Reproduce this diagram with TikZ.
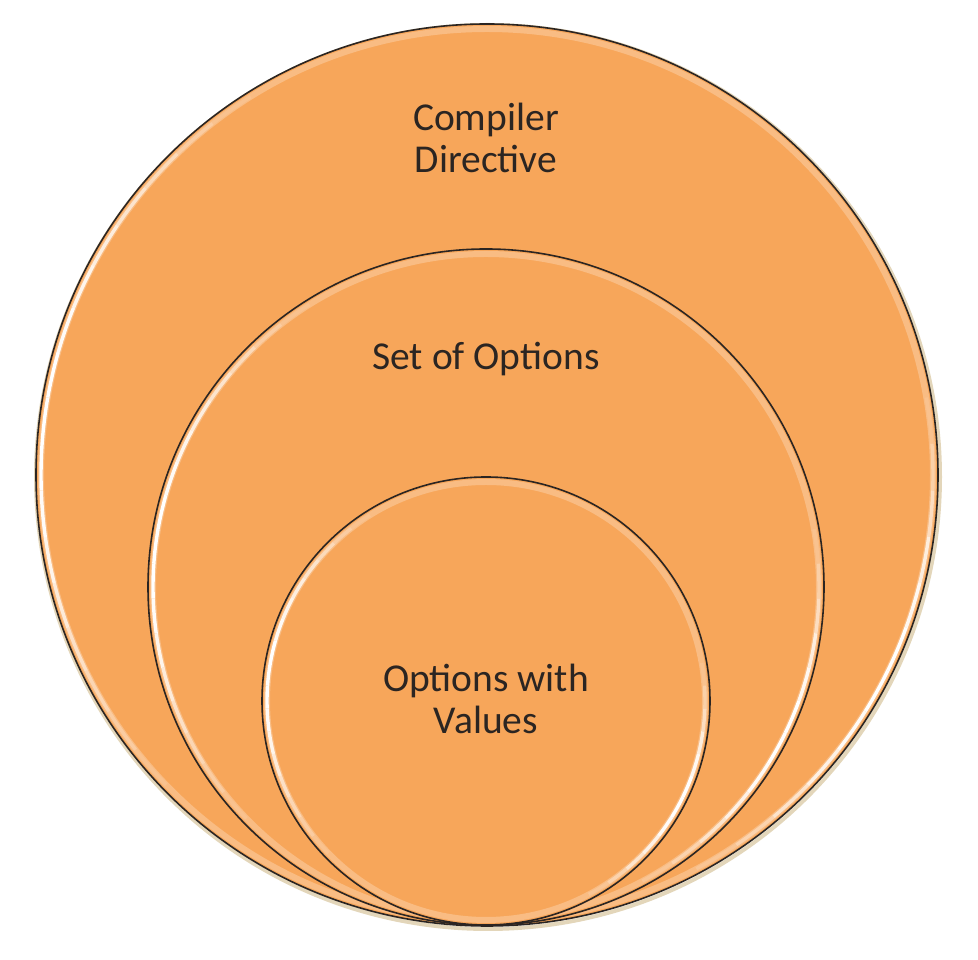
\documentclass[tikz,border=0pt]{standalone}
\usepackage{fontspec}
\setmainfont{Carlito}
\usetikzlibrary{calc}
\definecolor{orfill}{HTML}{F7A65A}
\definecolor{rim}{HTML}{2B2522}
\definecolor{shadowtan}{HTML}{E3D6BA}
\tikzset{
  ring/.style={circle, fill=orfill, draw=rim, line width=1.6pt, inner sep=0pt, minimum size=#1},
  lbl/.style={font=\fontsize{39.5}{42.5}\selectfont, text=rim, align=center, anchor=base},
}
\newcommand\glossring[2]{%
  \pgfmathsetmacro\rr{#2-5}
  \draw[white, line width=6pt, opacity=0.25] (#1.center) circle (\rr);
  \foreach \a/\o in {122/0.1,128/0.25,134/0.45,140/0.6,146/0.75,152/0.85,158/0.95,164/1,170/1,176/1,182/0.95,188/0.85,194/0.7,200/0.55,206/0.4,212/0.25,218/0.1}
    \draw[white, line width=3.4pt, opacity=\o] ($(#1.center)+(\a:\rr)$) arc[start angle=\a, end angle=\a+6, radius=\rr];
  \foreach \a/\o in {-62/0.15,-56/0.35,-50/0.6,-44/0.8,-38/0.95,-32/1,-26/1,-20/0.9,-14/0.75,-8/0.5,-2/0.3,4/0.1}
    \draw[white, line width=3.4pt, opacity=\o] ($(#1.center)+(\a:\rr)$) arc[start angle=\a, end angle=\a+6, radius=\rr];
}
\begin{document}
\begin{tikzpicture}[x=1pt,y=1pt]
  \useasboundingbox (0,0) rectangle (978,960);
  % soft shadow under outer circle
  \draw[shadowtan, line width=4pt] (488,483) circle (452);
  \node[ring=902pt] (outer) at (487,485) {};
  \glossring{outer}{451}
  \node[ring=676pt] (middle) at (486,373) {};
  \glossring{middle}{338}
  \node[ring=448pt] (inner) at (486,259) {};
  \glossring{inner}{224}
  \node[lbl] (cd) at (486,787) {Compiler\\Directive};
  \node[lbl] (so) at (486,590) {Set of Options};
  \node[lbl] (ov) at (486,226) {Options with\\Values};
\end{tikzpicture}
\end{document}
